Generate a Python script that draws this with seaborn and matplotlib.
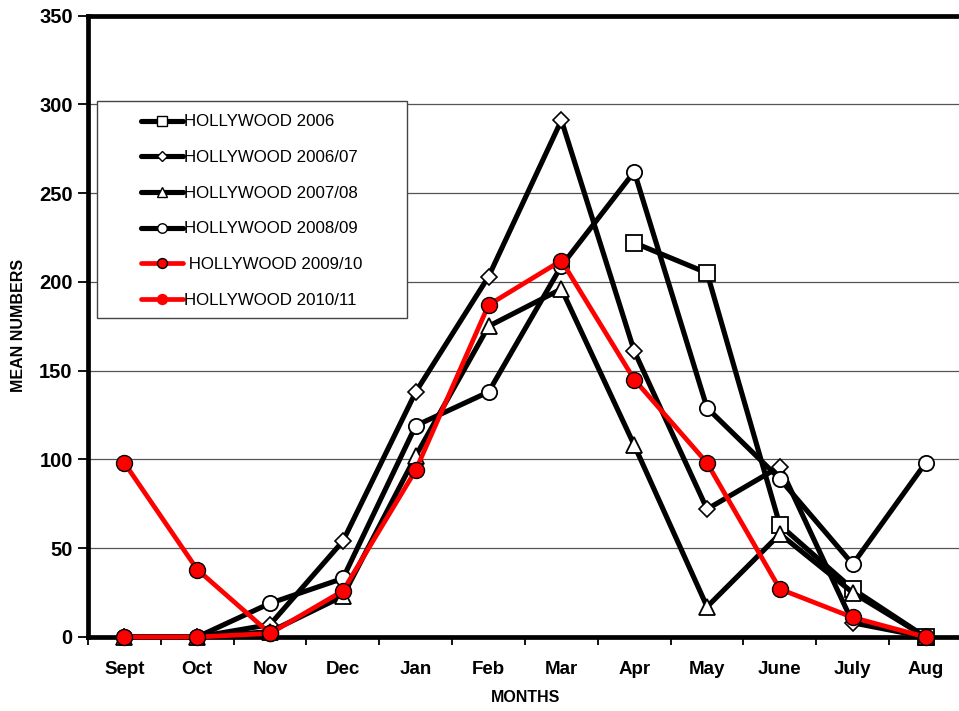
import numpy as np
import pandas as pd
import matplotlib
matplotlib.use("Agg")
import matplotlib.pyplot as plt
from matplotlib.lines import Line2D
from matplotlib.patches import Rectangle
import seaborn as sns

months = ["Sept", "Oct", "Nov", "Dec", "Jan", "Feb", "Mar", "Apr", "May", "June", "July", "Aug"]
nan = np.nan

hollywood_2006 = [nan, nan, nan, nan, nan, nan, nan, 222, 205, 63, 27, 0]
hollywood_2006_07 = [0, 0, 7, 54, 138, 203, 291, 161, 72, 96, 8, 0]
hollywood_2007_08 = [0, 0, 3, 23, 102, 175, 196, 108, 17, 58, 25, 0]
hollywood_2008_09 = [0, 0, 19, 33, 119, 138, 209, 262, 129, 89, 41, 98]
hollywood_2009_10 = [0, 0, 2, 26, 94, 187, 212, 145, 98, 27, 11, 0]
hollywood_2010_11 = [98, 38, 2, nan, nan, nan, nan, nan, nan, nan, nan, nan]

series_labels = ["HOLLYWOOD 2006", "HOLLYWOOD 2006/07", "HOLLYWOOD 2007/08",
                 "HOLLYWOOD 2008/09", " HOLLYWOOD 2009/10", "HOLLYWOOD 2010/11"]
series_values = [hollywood_2006, hollywood_2006_07, hollywood_2007_08,
                 hollywood_2008_09, hollywood_2009_10, hollywood_2010_11]

styles = [
    dict(color="black", marker="s", ms=11, mfc="white", mec="black", mew=1.3, lw=3.7),
    dict(color="black", marker="D", ms=8.5, mfc="white", mec="black", mew=1.2, lw=3.7),
    dict(color="black", marker="^", ms=11, mfc="white", mec="black", mew=1.3, lw=3.7),
    dict(color="black", marker="o", ms=11, mfc="white", mec="black", mew=1.3, lw=3.7),
    dict(color="#ff0000", marker="o", ms=11.5, mfc="#ff0000", mec="black", mew=1.0, lw=3.4),
    dict(color="#ff0000", marker="o", ms=11.5, mfc="#ff0000", mec="black", mew=1.0, lw=3.4),
]

sns.set_theme(style="white")
plt.rcParams["font.family"] = ["Liberation Sans", "DejaVu Sans"]

fig = plt.figure(figsize=(9.59, 7.11), dpi=100)
ax = fig.add_axes([88 / 959, 1 - 637 / 711, (962 - 88) / 959, (637 - 15.5) / 711])

x_pos = np.arange(len(months))
for label, vals, st in zip(series_labels, series_values, styles):
    df = pd.DataFrame({"month": x_pos, "value": vals}).dropna()
    sns.lineplot(data=df, x="month", y="value", ax=ax, color=st["color"],
                 linewidth=st["lw"], marker=st["marker"], markersize=st["ms"],
                 markerfacecolor=st["mfc"], markeredgecolor=st["mec"],
                 markeredgewidth=st["mew"], legend=False, clip_on=False,
                 zorder=3)

ax.set_xlim(-0.5, 11.5)
ax.set_ylim(0, 350)
ax.set_yticks(np.arange(0, 351, 50))
ax.set_xticks(x_pos)
ax.set_xticklabels(months)
ax.set_xticks(np.arange(-0.5, 12, 1), minor=True)

ax.yaxis.grid(True, color="#555555", linewidth=0.9, zorder=0)
ax.xaxis.grid(False)
ax.set_axisbelow(True)

for side in ["left", "bottom", "top"]:
    ax.spines[side].set_visible(True)
    ax.spines[side].set_color("black")
    ax.spines[side].set_linewidth(3.4)
ax.spines["right"].set_visible(False)

ax.tick_params(axis="y", which="major", direction="out", length=7, width=1.3,
               color="black", left=True, labelsize=14.5, pad=4)
ax.tick_params(axis="x", which="major", length=0, labelsize=13.5, pad=17)
ax.tick_params(axis="x", which="minor", direction="out", length=6, width=1.3,
               color="black", bottom=True)
for t in ax.get_xticklabels() + ax.get_yticklabels():
    t.set_fontweight("bold")
    t.set_color("black")

ax.set_xlabel("")
ax.set_ylabel("")
fig.text(526 / 959, 1 - 698 / 711, "MONTHS", ha="center", va="center",
         fontsize=11.5, fontweight="bold", color="black")
fig.text(19 / 959, 1 - 325 / 711, "MEAN NUMBERS", ha="center", va="center",
         rotation=90, fontsize=11.5, fontweight="bold", color="black")

# Legend box with its entries
fig.patches.append(Rectangle((97 / 959, 1 - 318 / 711), (407 - 97) / 959, (318 - 101) / 711,
                             transform=fig.transFigure, facecolor="white",
                             edgecolor="#444444", linewidth=1.0, zorder=5))
handles = []
for st in styles:
    handles.append(Line2D([0], [0], color=st["color"], linewidth=st["lw"],
                          marker=st["marker"], markersize=st["ms"] * 0.62,
                          markerfacecolor=st["mfc"], markeredgecolor=st["mec"],
                          markeredgewidth=1.0))
handles[5].set_markeredgecolor("#ff0000")
leg = fig.legend(handles, series_labels, loc="upper left",
                 bbox_to_anchor=(133 / 959, 1 - 106 / 711), frameon=False,
                 fontsize=12.2, handlelength=2.45, handletextpad=0.05,
                 labelspacing=1.22, borderpad=0.0)
leg.set_zorder(6)
for t in leg.get_texts():
    t.set_color("black")

fig.savefig("out.png", dpi=100)
